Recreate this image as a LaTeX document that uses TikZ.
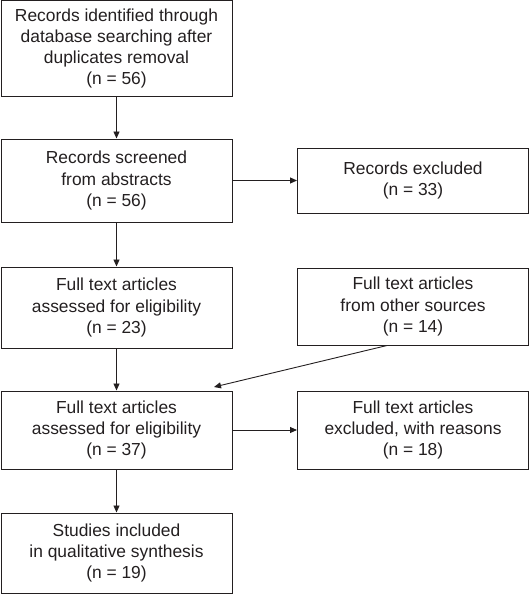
\documentclass[tikz,border=0pt]{standalone}
\usepackage{fontspec}
\usetikzlibrary{arrows.meta}
\setmainfont{Liberation Sans}
\definecolor{fdline}{HTML}{231F20}

\begin{document}
\begin{tikzpicture}[
            x=1pt, y=-1pt,
            box/.style={rectangle, draw=fdline, line width=1pt, align=center, inner sep=0pt,
                        minimum width=231pt, text=fdline, font=\fontsize{17.4}{21.2}\selectfont},
            arrow/.style={-{Triangle[length=7pt,width=6pt]}, draw=fdline, line width=0.9pt}
        ]
            \useasboundingbox (0,0) rectangle (530,594);

            % Main column
            \node[box, minimum height=95pt] (ident) at (116.5,48.5) {Records identified through\\database searching after\\duplicates removal\\(n = 56)};
            \node[box, minimum height=83pt] (screen) at (116.5,180.5) {Records screened\\from abstracts\\(n = 56)};
            \node[box, minimum height=81pt] (assess) at (116.5,307.5) {Full text articles\\assessed for eligibility\\(n = 23)};
            \node[box, minimum height=78pt] (total) at (116.5,430) {Full text articles\\assessed for eligibility\\(n = 37)};
            \node[box, minimum height=80pt] (incl) at (116.5,553) {Studies included\\in qualitative synthesis\\(n = 19)};

            % Side column
            \node[box, minimum height=65pt] (excl) at (413,180.5) {Records excluded\\(n = 33)};
            \node[box, minimum height=77pt] (other) at (413,306.5) {Full text articles\\from other sources\\(n = 14)};
            \node[box, minimum height=78pt] (reason) at (413,430) {Full text articles\\excluded, with reasons\\(n = 18)};

            % Arrows
            \draw[arrow] (ident) -- (screen);
            \draw[arrow] (screen) -- (assess);
            \draw[arrow] (assess) -- (total);
            \draw[arrow] (total) -- (incl);
            \draw[arrow] (screen) -- (excl);
            \draw[arrow] (total) -- (reason);

            % Other sources join
            \coordinate (join) at (214,387);
            \draw[arrow] ([xshift=-26pt]other.south) -- (join);
        \end{tikzpicture}
\end{document}
